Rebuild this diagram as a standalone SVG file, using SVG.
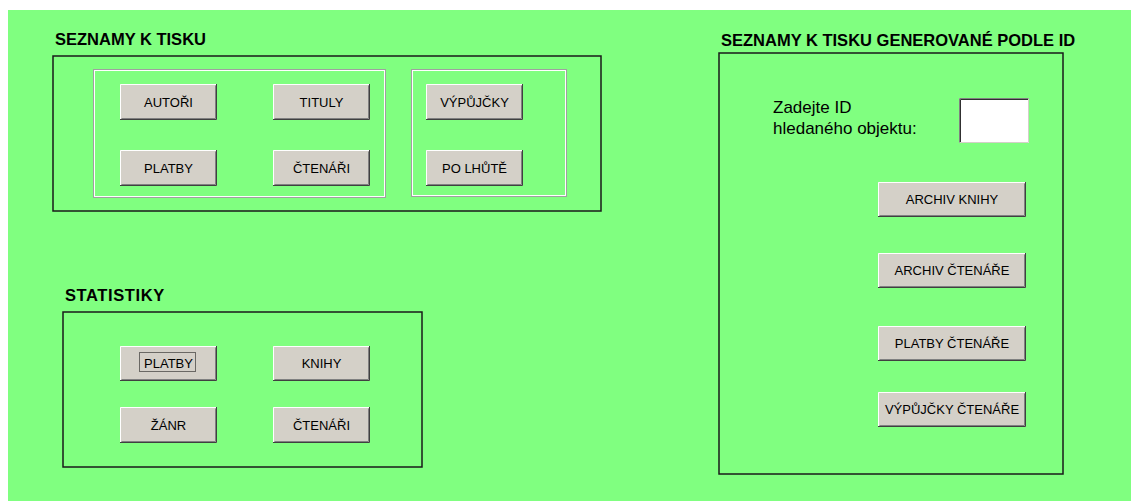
<svg xmlns="http://www.w3.org/2000/svg" width="1131" height="501" viewBox="0 0 1131 501">
<style>
.bg{fill:#80ff80}
.box{fill:none;stroke:#1a1a1a;stroke-width:1.5}
.etch1{fill:none;stroke:#a0a0a0;stroke-width:1}
.etch2{fill:none;stroke:#ffffff;stroke-width:1}
.btn{fill:#d4d0c8}
.hl{fill:none;stroke:#ffffff;stroke-width:1}
.sh{fill:none;stroke:#404040;stroke-width:1}
.sh2{fill:none;stroke:#808080;stroke-width:1}
.t{font-family:"Liberation Sans",Arial,sans-serif;font-size:13px;fill:#000;text-anchor:middle}
.h{font-family:"Liberation Sans",Arial,sans-serif;font-size:16.5px;font-weight:bold;fill:#000}
.lbl{font-family:"Liberation Sans",Arial,sans-serif;font-size:17px;fill:#000}
</style>
<defs>
<g id="btn97">
<rect class="btn" x="0" y="0" width="97" height="36"/>
<polyline class="hl" points="0.5,35 0.5,0.5 96,0.5"/>
<polyline class="sh2" points="1.5,34.5 95.5,34.5 95.5,1.5"/>
<polyline class="sh" points="0,35.5 96.5,35.5 96.5,0"/>
</g>
<g id="btn97s">
<rect class="btn" x="0" y="0" width="97" height="35"/>
<polyline class="hl" points="0.5,34 0.5,0.5 96,0.5"/>
<polyline class="sh2" points="1.5,33.5 95.5,33.5 95.5,1.5"/>
<polyline class="sh" points="0,34.5 96.5,34.5 96.5,0"/>
</g>
<g id="btn148">
<rect class="btn" x="0" y="0" width="148" height="35"/>
<polyline class="hl" points="0.5,34 0.5,0.5 147,0.5"/>
<polyline class="sh2" points="1.5,33.5 146.5,33.5 146.5,1.5"/>
<polyline class="sh" points="0,34.5 147.5,34.5 147.5,0"/>
</g>
</defs>
<rect x="0" y="0" width="1131" height="501" fill="#ffffff"/>
<rect class="bg" x="8" y="10" width="1123" height="491"/>

<g id="seznamy">
<text class="h" x="55" y="45">SEZNAMY K TISKU</text>
<rect class="box" x="53" y="56" width="548" height="155"/>
<rect class="etch1" x="93.5" y="69.5" width="292" height="128"/>
<rect class="etch2" x="94.5" y="70.5" width="290" height="126"/>
<rect class="etch1" x="411.5" y="69.5" width="155" height="127"/>
<rect class="etch2" x="412.5" y="70.5" width="153" height="125"/>
</g>
<g id="btn-autori"><use href="#btn97" x="120" y="84"/><text class="t" x="168.5" y="107">AUTOŘI</text></g>
<g id="btn-tituly"><use href="#btn97" x="273" y="84"/><text class="t" x="321.5" y="107">TITULY</text></g>
<g id="btn-platby"><use href="#btn97" x="120" y="150"/><text class="t" x="168.5" y="173">PLATBY</text></g>
<g id="btn-ctenari"><use href="#btn97" x="273" y="150"/><text class="t" x="321.5" y="173">ČTENÁŘI</text></g>
<g id="btn-vypujcky"><use href="#btn97" x="426" y="84"/><text class="t" x="474.5" y="107">VÝPŮJČKY</text></g>
<g id="btn-polhute"><use href="#btn97" x="426" y="150"/><text class="t" x="474.5" y="173">PO LHŮTĚ</text></g>

<g id="statistiky">
<text class="h" x="65" y="301" letter-spacing="0.6">STATISTIKY</text>
<rect class="box" x="63" y="312" width="359" height="155"/>
</g>
<g id="st-platby"><use href="#btn97s" x="120" y="346"/><rect x="139.5" y="352.5" width="56" height="19" fill="none" stroke="#000" stroke-width="1" stroke-dasharray="1,1"/><text class="t" x="168.5" y="368">PLATBY</text></g>
<g id="st-knihy"><use href="#btn97s" x="273" y="346"/><text class="t" x="321.5" y="368">KNIHY</text></g>
<g id="st-zanr"><use href="#btn97" x="120" y="407"/><text class="t" x="168.5" y="430">ŽÁNR</text></g>
<g id="st-ctenari"><use href="#btn97" x="273" y="407"/><text class="t" x="321.5" y="430">ČTENÁŘI</text></g>

<g id="podle-id">
<text class="h" x="721" y="46">SEZNAMY K TISKU GENEROVANÉ PODLE ID</text>
<rect class="box" x="719" y="53" width="344" height="421"/>
<text class="lbl" x="773" y="113">Zadejte ID</text>
<text class="lbl" x="773" y="134">hledaného objektu:</text>
</g>
<g id="input-id">
<rect x="959" y="98" width="70" height="45" fill="#ffffff"/>
<polyline points="959.5,143 959.5,98.5 1029,98.5" fill="none" stroke="#808080" stroke-width="1"/>
<polyline points="960.5,142 960.5,99.5 1028,99.5" fill="none" stroke="#303030" stroke-width="1"/>
<polyline points="959.5,142.5 1028.5,142.5 1028.5,98.5" fill="none" stroke="#d4d0c8" stroke-width="1"/>
</g>
<g id="btn-archiv-knihy"><use href="#btn148" x="878" y="182"/><text class="t" x="952" y="204">ARCHIV KNIHY</text></g>
<g id="btn-archiv-ctenare"><use href="#btn148" x="878" y="253"/><text class="t" x="952" y="275">ARCHIV ČTENÁŘE</text></g>
<g id="btn-platby-ctenare"><use href="#btn148" x="878" y="326"/><text class="t" x="952" y="348">PLATBY ČTENÁŘE</text></g>
<g id="btn-vypujcky-ctenare"><use href="#btn148" x="878" y="392"/><text class="t" x="952" y="414">VÝPŮJČKY ČTENÁŘE</text></g>
<g id="connectors"></g>
</svg>
